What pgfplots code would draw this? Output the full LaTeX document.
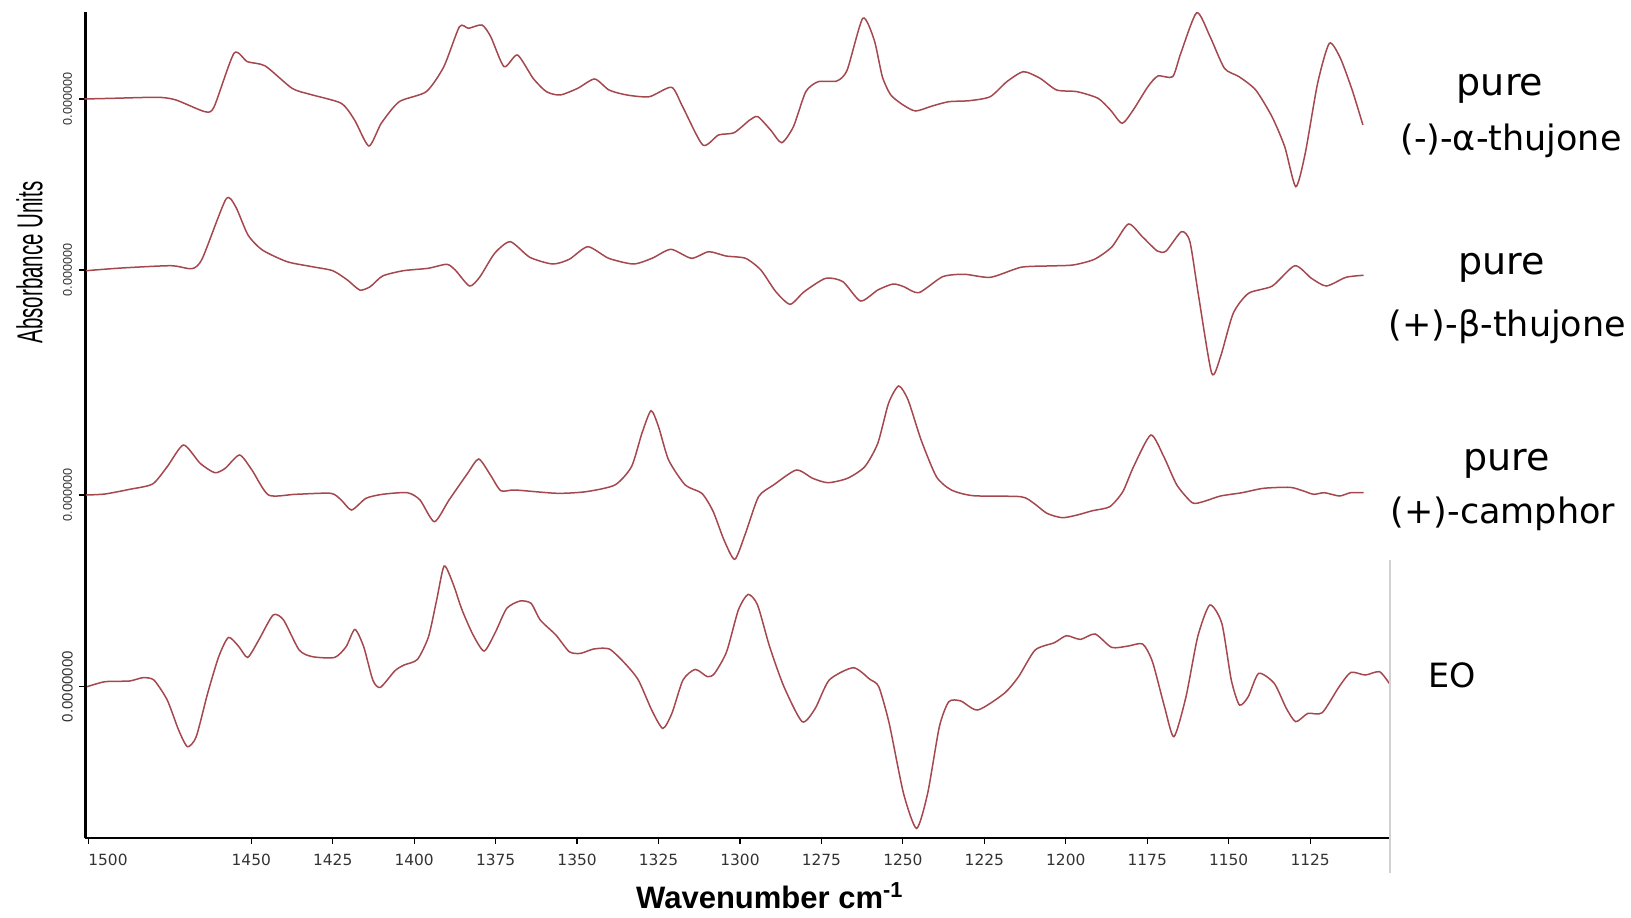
\documentclass[border=0pt]{standalone}
\usepackage{fontspec}
\setmainfont{Liberation Sans}
\newfontfamily\dejavu{DejaVu Sans}
\usepackage{graphicx}
\usepackage{pgfplots}
\usepackage{pgfplotstable}
\pgfplotsset{compat=1.18}
\definecolor{spec}{RGB}{165,72,78}

\pgfplotstableread{
w d
1501.2 0
1492.3 0.7
1478.6 1.7
1473.1 -1
1464.2 -12.7
1461.4 -7.7
1455.3 45.7
1451.2 37.3
1445.7 33
1437.5 10.7
1432.0 4.7
1422.4 -4.3
1418.3 -21
1413.9 -47
1410.1 -24.3
1404.6 -2.7
1396.3 7.3
1390.9 32.3
1386.1 72.3
1383.3 70.7
1379.2 74
1376.5 62.3
1372.4 32.3
1368.3 44
1363.5 20.7
1359.4 7.3
1355.2 4
1349.8 10.7
1344.6 20
1340.2 9
1334.7 4
1327.8 2.3
1321.0 11.7
1317.6 -7.7
1311.4 -46
1306.6 -36
1301.8 -33.7
1297.0 -21
1294.5 -17.7
1290.6 -31
1287.2 -43.7
1283.6 -27.7
1279.8 7.3
1276.0 17.3
1270.3 18
1267.1 29
1262.3 80.7
1258.8 59
1256.3 22.3
1253.7 4
1249.9 -6
1246.1 -12
1241.0 -7
1235.9 -2.7
1229.6 -1.7
1223.2 2.3
1218.1 17.3
1213.0 27.3
1207.9 20.7
1202.8 9
1196.5 7.3
1190.1 0.7
1186.3 -11
1182.7 -24.3
1179.3 -11
1174.8 12.3
1171.7 23
1167.2 22.3
1164.7 45.7
1159.8 86.3
1155.7 62.3
1151.3 30.7
1146.8 22.3
1141.7 9
1136.7 -17.7
1132.8 -47.7
1129.4 -87.7
1126.5 -54.3
1122.7 15.7
1119.1 55.7
1115.7 40.7
1112.0 8
1108.8 -26
}\alpha

\pgfplotstableread{
w d
1500.7 -0.7
1489.8 2
1474.6 4.3
1468.2 1.3
1465.0 11.7
1457.8 70.7
1454.8 63.3
1451.0 35
1446.6 20
1439.0 8.3
1431.3 3.3
1425.0 -0.7
1420.5 -10
1416.7 -20
1413.5 -16.7
1409.7 -6
1403.3 -0.7
1395.7 1.7
1390.0 5.7
1387.4 0
1383.0 -16
1379.8 -6.7
1375.3 16.7
1370.5 28.3
1364.5 12.7
1357.5 6
1352.4 10.7
1346.7 23.3
1340.3 11.7
1332.7 6
1327.0 11.7
1321.2 20.7
1314.9 11.7
1309.6 18.3
1304.3 14
1298.3 11.7
1293.6 0
1289.0 -21.7
1284.6 -34.3
1280.3 -21.7
1273.7 -8.3
1268.4 -11.7
1263.0 -31
1257.7 -20
1253.0 -14
1249.7 -16.7
1245.1 -22.7
1237.8 -6.7
1231.1 -4.3
1223.1 -7.3
1213.8 2.7
1205.8 4
1197.8 5
1191.2 10.7
1185.8 23.3
1180.8 46
1176.5 33.3
1171.9 19
1169.2 19
1164.5 38.3
1161.9 28.3
1159.2 -26.7
1155.2 -103.3
1152.5 -86.7
1148.6 -43.3
1143.9 -23.3
1136.6 -16
1129.7 4.3
1124.6 -8.3
1120.0 -16
1114.0 -7.3
1108.6 -5.3
}\beta

\pgfplotstableread{
w d
1500.7 0
1494.9 1
1487.3 5.7
1480.3 11
1475.8 28.3
1470.8 50
1465.7 31.7
1461.2 22.3
1458.0 26.7
1453.6 40
1449.8 25
1444.7 0
1436.4 0.7
1425.6 1.7
1422.4 -5
1419.2 -15
1414.8 -3.3
1409.7 0.7
1402.1 2.3
1398.2 -5
1393.8 -26.7
1389.3 -5
1383.6 21.7
1380.2 36
1376.6 20
1373.4 4.3
1369.0 5
1356.2 1.7
1347.3 3.3
1338.4 10
1333.3 28.3
1330.1 61.7
1327.3 84.3
1325.0 68.3
1321.9 35
1316.8 10
1311.7 1.7
1308.3 -16
1304.9 -45
1301.6 -64.3
1298.3 -38.3
1294.3 -1.7
1289.7 10
1282.7 25
1277.7 16.7
1273.0 12.3
1267.0 16.7
1261.7 28.3
1257.7 51.7
1254.4 91.7
1251.3 109
1248.4 95
1244.4 55
1239.7 18.3
1235.1 5
1228.4 -0.7
1213.8 -1.7
1209.8 -8.3
1205.8 -18.3
1201.1 -22.7
1196.5 -20
1191.8 -15.7
1186.5 -11.7
1182.5 3.3
1179.2 28.3
1173.9 60
1169.9 38.3
1165.9 10
1161.2 -7.7
1157.9 -6.7
1152.5 -1
1145.9 2.3
1139.3 6.7
1131.2 7.7
1127.3 4.3
1123.9 0.7
1120.6 2.3
1116.0 -1
1112.6 2.3
1108.6 2.3
}\camphor

\pgfplotstableread{
w d
1500.4 0
1494.9 5
1487.4 5.7
1483.3 9
1479.9 6.7
1475.8 -13.3
1472.3 -43.3
1469.6 -60
1466.9 -50
1463.4 -6.7
1460.0 30
1457.0 49.3
1453.8 40
1451.1 29.3
1447.7 46.7
1443.3 71.7
1440.1 66.7
1435.3 36.7
1431.2 30
1424.4 29.3
1420.9 40
1418.2 57.3
1415.5 40
1412.7 6.7
1410.4 -0.7
1405.9 16
1403.1 21.7
1399.0 27.3
1395.6 50
1393.1 86.7
1390.8 120.7
1388.1 103.3
1385.3 76.7
1381.9 51.7
1378.5 35.7
1375.0 55
1371.6 78.3
1367.5 85.7
1364.1 83.3
1361.3 66.7
1356.5 51.7
1352.4 35
1349.0 33.3
1344.9 37.7
1340.1 37.7
1335.3 23.3
1331.2 6.7
1327.1 -23.3
1323.7 -41.7
1320.9 -26.7
1317.5 6.7
1313.7 17.3
1310.0 10
1307.8 13.3
1304.1 35
1300.5 76.7
1297.5 92.3
1294.6 81.7
1290.9 40
1286.5 0
1280.9 -35
1276.9 -21.7
1272.6 6.7
1265.2 19
1260.1 7.3
1257.4 0
1254.2 -36.7
1249.8 -106.7
1245.8 -141.7
1242.4 -106.7
1238.8 -40
1235.9 -15
1232.2 -14.3
1227.0 -23.3
1218.9 -6.7
1214.5 10
1209.4 36.7
1203.5 44
1199.8 51
1195.5 47.3
1191.0 52.7
1185.9 39.3
1180.8 40.7
1176.4 42.7
1173.4 25
1169.7 -20
1166.8 -50
1163.1 -10
1159.5 50
1155.8 81.7
1152.1 63.3
1149.2 6.7
1146.7 -18.3
1144.0 -10
1140.8 13.3
1136.0 3.3
1132.3 -21.7
1129.4 -35
1125.7 -26.7
1121.3 -26
1116.1 0
1112.5 14.3
1108.1 11.7
1103.7 15
1100.7 3.3
}\eo

\begin{document}
\begin{tikzpicture}
\useasboundingbox (-42.75pt,-39.65pt) rectangle (772.75pt,418.85pt);
\begin{axis}[
  at={(0pt,0pt)}, anchor=south west,
  scale only axis, width=651.75pt, height=412.85pt,
  xmin=1100.79, xmax=1500.89, x dir=reverse,
  ymin=0, ymax=825.7,
  axis x line*=bottom, axis y line*=left,
  axis line style={line width=1.2pt, black},
  xtick={1500,1450,1425,1400,1375,1350,1325,1300,1275,1250,1225,1200,1175,1150,1125},
  xticklabels={\makebox[0pt][l]{1500},1450,1425,1400,1375,1350,1325,1300,1275,1250,1225,1200,1175,1150,1125},
  ytick={738.7,567.7,342.7,151.0},
  yticklabels={{\fontsize{6.3}{7}\selectfont 0.000000},{\fontsize{6.3}{7}\selectfont 0.000000},{\fontsize{6.3}{7}\selectfont 0.000000},{\fontsize{7.5}{8}\selectfont 0.0000000}},
  tick align=outside, major tick length=3pt,
  tick style={black, line width=0.6pt},
  xticklabel style={font=\dejavu\fontsize{7.7}{9}\selectfont, text=black!80, anchor=center, yshift=-8pt},
  yticklabel style={xshift=-6pt, rotate=90, anchor=center, text=black!80},
  clip=false,
]
\addplot[spec, line width=0.75pt, smooth, tension=0.4] table[x=w, y expr=\thisrow{d}+738.7] {\alpha};
\addplot[spec, line width=0.75pt, smooth, tension=0.4] table[x=w, y expr=\thisrow{d}+567.7] {\beta};
\addplot[spec, line width=0.75pt, smooth, tension=0.4] table[x=w, y expr=\thisrow{d}+342.7] {\camphor};
\addplot[spec, line width=0.75pt, smooth, tension=0.4] table[x=w, y expr=\thisrow{d}+151.0] {\eo};
\end{axis}
\draw[black!18, line width=1pt] (652.25pt,138.85pt) -- (652.25pt,-17.65pt);
\node[rotate=90, font=\fontsize{18}{20}\selectfont] at (-27.95pt,287.55pt) {\scalebox{0.57}[1]{Absorbance Units}};
\node[anchor=base, font=\bfseries\fontsize{15.5}{17}\selectfont] at (342.15pt,-35.2pt) {Wavenumber cm\textsuperscript{-1}};
\node[anchor=base, font=\dejavu\fontsize{19}{21}\selectfont] at (707.25pt,371.2pt) {pure};
\node[anchor=base, font=\dejavu\fontsize{17.5}{20}\selectfont] at (712.75pt,343.4pt) {(-)-α-thujone};
\node[anchor=base, font=\dejavu\fontsize{19}{21}\selectfont] at (708.1pt,281.4pt) {pure};
\node[anchor=base, font=\dejavu\fontsize{17.5}{20}\selectfont] at (711pt,250.7pt) {(+)-β-thujone};
\node[anchor=base, font=\dejavu\fontsize{19}{21}\selectfont] at (710.6pt,183.45pt) {pure};
\node[anchor=base, font=\dejavu\fontsize{17.5}{20}\selectfont] at (708.75pt,157.15pt) {(+)-camphor};
\node[anchor=base, font=\dejavu\fontsize{16.7}{19}\selectfont] at (683.1pt,75.3pt) {EO};
\end{tikzpicture}
\end{document}
